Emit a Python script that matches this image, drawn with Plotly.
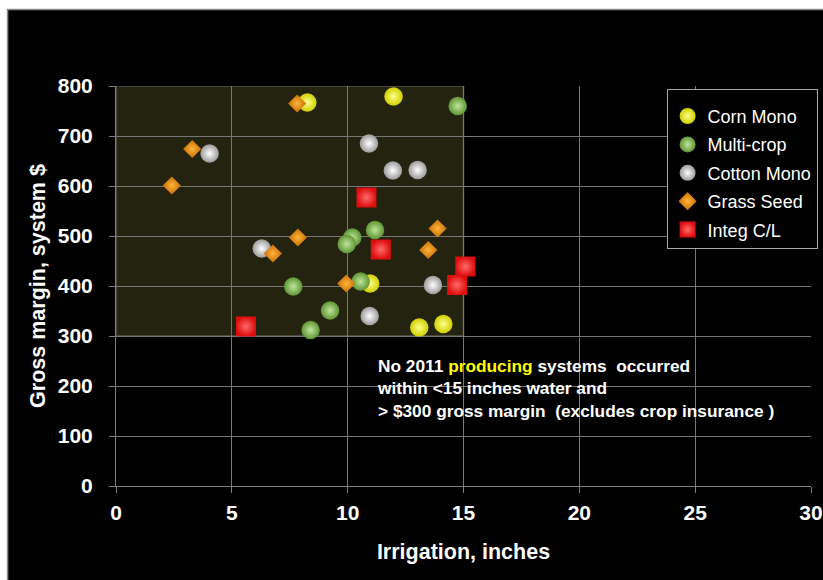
import plotly.graph_objects as go

# ---- data ----
corn_x = [8.26, 11.98, 10.97, 13.09, 14.13]
corn_y = [767, 779, 405, 317, 324]

multi_x = [14.75, 10.2, 9.96, 11.18, 7.65, 10.56, 9.24, 8.4]
multi_y = [760, 497, 484, 512, 399, 409, 351, 312]

cotton_x = [4.04, 10.92, 11.95, 13.02, 6.29, 13.68, 10.95]
cotton_y = [665, 685, 631, 632, 475, 402, 340]

grass_x = [7.82, 3.29, 2.41, 7.85, 6.77, 9.94, 13.88, 13.48]
grass_y = [765, 674, 601, 497, 465, 405, 515, 472]

integ_x = [10.81, 11.43, 5.61, 15.08, 14.72]
integ_y = [577, 473, 319, 439, 402]

x_ticks = [0, 5, 10, 15, 20, 25, 30]
y_ticks = [0, 100, 200, 300, 400, 500, 600, 700, 800]

series = [
    ("Corn Mono", corn_x, corn_y, "circle", 18.5, "#cfcf00", "#ffff8a"),
    ("Multi-crop", multi_x, multi_y, "circle", 18.5, "#5f9435", "#bfe69a"),
    ("Cotton Mono", cotton_x, cotton_y, "circle", 18.5, "#9a9a9a", "#ffffff"),
    ("Grass Seed", grass_x, grass_y, "diamond", 14, "#c86e00", "#ffb43c"),
    ("Integ C/L", integ_x, integ_y, "square", 20, "#dd0d0d", "#ff6a6a"),
]

fig = go.Figure()
for name, xs, ys, sym, size, col, grad in series:
    fig.add_trace(go.Scatter(
        x=xs, y=ys, mode="markers", name=name, legendgroup=name,
        marker=dict(symbol=sym, size=size, color=col,
                    gradient=dict(type="radial", color=grad),
                    line=dict(width=0)),
    ))

FW, FH = 823, 580
L, R, T, B = 116, 11.5, 86, 94
W, H = FW - L - R, FH - T - B

def px_x(p):  # screen pixel -> paper fraction
    return (p - L) / W

def px_y(p):
    return (FH - B - p) / H

# black slide panel with grey border
fig.add_shape(type="rect", xref="paper", yref="paper",
              x0=px_x(7.5), x1=px_x(840), y0=px_y(600), y1=px_y(9.5),
              fillcolor="black", line=dict(color="#8c8c8c", width=1.5),
              layer="below")
# highlighted region
fig.add_shape(type="rect", xref="x", yref="y", x0=0, x1=15, y0=300, y1=800,
              fillcolor="#24230f", line=dict(color="#56564a", width=1.5),
              layer="below")

fig.add_annotation(
    xref="x", yref="y", x=11.2, y=196, xanchor="left", yanchor="middle",
    align="left", showarrow=False,
    text=("No 2011 <span style='color:#ffff00'>producing</span> systems  occurred<br>"
          "within &lt;15 inches water and<br>"
          "&gt; $300 gross margin  (excludes crop insurance )"),
    font=dict(family="Liberation Sans, Arial", size=17.3, color="white", weight="bold"),
)

axis_common = dict(
    showline=True, linecolor="#808080", linewidth=1,
    showgrid=True, gridcolor="#767676", gridwidth=1,
    zeroline=False, ticks="outside", ticklen=6, tickcolor="#808080",
    tickfont=dict(family="Liberation Sans, Arial", size=21, color="white", weight="bold"),
)

fig.update_xaxes(range=[0, 30], tickvals=x_ticks, ticktext=[str(v) for v in x_ticks],
                 title=dict(text="Irrigation, inches", standoff=20,
                            font=dict(family="Liberation Sans, Arial", size=21.5,
                                      color="white", weight="bold")),
                 ticklabelstandoff=2, **axis_common)
fig.update_yaxes(range=[0, 800], tickvals=y_ticks, ticktext=[str(v) for v in y_ticks],
                 title=dict(text="Gross margin, system $", standoff=6,
                            font=dict(family="Liberation Sans, Arial", size=21.5,
                                      color="white", weight="bold")),
                 ticklabelstandoff=12, **axis_common)

fig.update_layout(
    width=FW, height=FH,
    margin=dict(l=L, r=R, t=T, b=B, autoexpand=False),
    paper_bgcolor="white", plot_bgcolor="black",
    showlegend=True,
    legend=dict(
        x=px_x(667), y=px_y(89), xanchor="left", yanchor="top",
        bgcolor="black", bordercolor="#a8a8a8", borderwidth=1,
        font=dict(family="Liberation Sans, Arial", size=18, color="white"),
        tracegroupgap=2,
        title=dict(text=" ", font=dict(size=6)),
    ),
)

# remove the default 8px page margin so the figure fills the window exactly
fig.write_html(
    "out.html",
    config={"displayModeBar": False},
    post_script="document.body.style.margin='0';document.body.style.overflow='hidden';",
)
